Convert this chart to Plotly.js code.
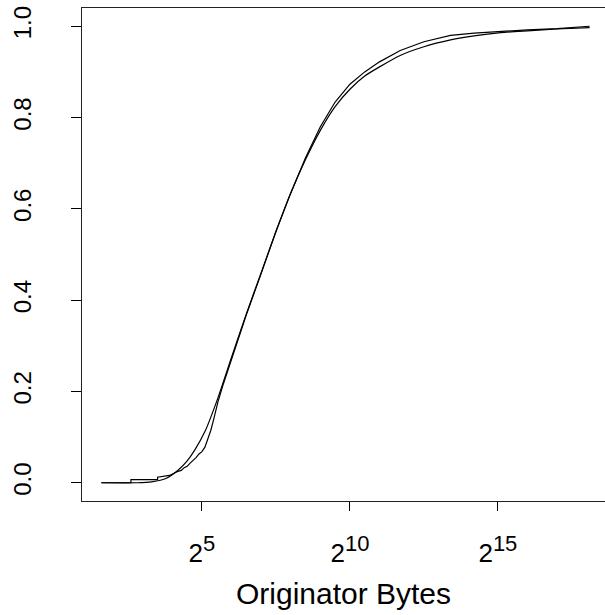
<!DOCTYPE html>
<html>
<head>
<meta charset="utf-8">
<script src="https://cdn.plot.ly/plotly-3.0.1.min.js"></script>
<style>html,body{margin:0;padding:0;background:#fff;}#chart{width:605px;height:615px;}</style>
</head>
<body>
<div id="chart"></div>
<script>
// log2(bytes) values for the fitted (smooth) distribution
var fitX = [1.6, 2.8, 3.3, 3.8, 4.2, 4.5, 4.76, 5.1, 5.54, 6.0, 6.5, 7.0, 7.5, 7.97, 8.5, 9.0, 9.5, 10.0, 10.5, 11.0, 11.7, 12.5, 13.4, 14.2, 15.1, 16.0, 17.0, 18.1];
var fitY = [0.000, 0.000, 0.002, 0.010, 0.028, 0.048, 0.072, 0.112, 0.186, 0.275, 0.37, 0.46, 0.55, 0.63, 0.708, 0.772, 0.824, 0.862, 0.891, 0.911, 0.936, 0.955, 0.970, 0.979, 0.986, 0.990, 0.994, 0.997];

// empirical CDF
var ecdfX = [1.6, 2.6, 2.6, 3.5, 3.5, 3.9, 4.16, 4.3, 4.4, 4.5, 4.6, 4.7, 4.8, 4.9, 5.0, 5.1, 5.2, 5.3, 5.4, 5.54, 5.7, 6.0, 6.5, 7.0, 7.5, 7.97, 8.5, 9.0, 9.5, 10.0, 10.5, 11.0, 11.7, 12.5, 13.4, 14.2, 15.1, 16.0, 17.0, 18.1];
var ecdfY = [0.000, 0.000, 0.007, 0.007, 0.012, 0.016, 0.024, 0.027, 0.033, 0.036, 0.043, 0.048, 0.055, 0.063, 0.068, 0.078, 0.095, 0.115, 0.14, 0.177, 0.212, 0.272, 0.368, 0.458, 0.551, 0.63, 0.712, 0.78, 0.834, 0.873, 0.90, 0.922, 0.947, 0.966, 0.980, 0.985, 0.989, 0.992, 0.995, 1.000];

var xTickVals = [5, 10, 15];
var xTickText = ['2<sup><span style="font-size:22px">5</span></sup>', '2<sup><span style="font-size:22px">10</span></sup>', '2<sup><span style="font-size:22px">15</span></sup>'];
var yTickVals = [0, 0.2, 0.4, 0.6, 0.8, 1.0];
var yTickText = ['0.0', '0.2', '0.4', '0.6', '0.8', '1.0'];

var font = 'Liberation Sans, Arial, Helvetica, sans-serif';

var traces = [
  {x: fitX, y: fitY, mode: 'lines', line: {color: '#000', width: 1.2, shape: 'spline', smoothing: 0.6}, hoverinfo: 'skip'},
  {x: ecdfX, y: ecdfY, mode: 'lines', line: {color: '#000', width: 1.2}, hoverinfo: 'skip'}
];

var layout = {
  width: 605, height: 615,
  margin: {l: 82, r: 0, t: 8, b: 114},
  paper_bgcolor: '#fff', plot_bgcolor: '#fff',
  showlegend: false,
  font: {family: font, color: '#000'},
  xaxis: {
    range: [0.946, 18.62], showgrid: false, zeroline: false,
    showline: true, mirror: true, linecolor: '#222', linewidth: 1,
    ticks: 'outside', ticklen: 9, tickcolor: '#000', tickwidth: 1,
    tickmode: 'array', tickvals: xTickVals, ticktext: xTickText,
    tickfont: {size: 26, family: font, color: '#000'},
    ticklabelstandoff: 20,
    title: {text: 'Originator Bytes', font: {size: 30, family: font, color: '#000'}, standoff: 15}
  },
  yaxis: {
    range: [-0.04, 1.04], showgrid: false, zeroline: false,
    showline: true, mirror: false, linecolor: '#222', linewidth: 1,
    ticks: 'outside', ticklen: 10, tickcolor: '#000', tickwidth: 1,
    tickmode: 'array', tickvals: yTickVals, ticktext: yTickText,
    tickangle: -90,
    tickfont: {size: 24, family: font, color: '#000'},
    ticklabelstandoff: 30
  }
};

Plotly.newPlot('chart', traces, layout, {staticPlot: true, displayModeBar: false});
</script>
</body>
</html>
